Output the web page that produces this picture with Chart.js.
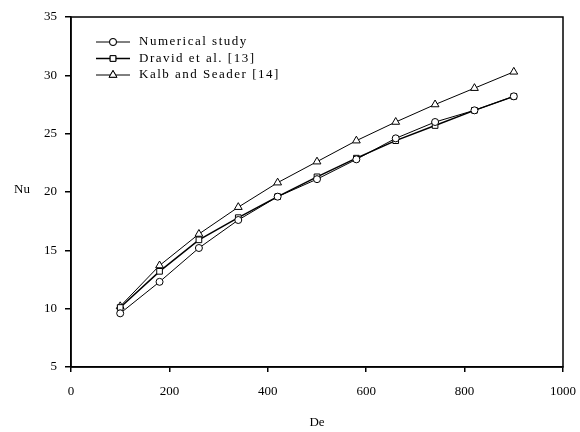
<!DOCTYPE html>
<html>
<head>
<meta charset="utf-8">
<script src="https://cdn.jsdelivr.net/npm/chart.js@4"></script>
<style>
    html, body { margin: 0; padding: 0; background: #fff; }
    #wrap { width: 580px; height: 432px; }
</style>
</head>
<body>
<div id="wrap"><canvas id="nuChart" width="580" height="432"></canvas></div>
<script>
// De values (x) and Nu values for each series
const deValues = [100, 180, 260, 340, 420, 500, 580, 660, 740, 820, 900];
const numericalStudy = [9.6, 12.3, 15.2, 17.6, 19.6, 21.1, 22.8, 24.6, 26.0, 27.0, 28.2];
const dravid = [10.1, 13.2, 15.9, 17.8, 19.6, 21.3, 22.9, 24.4, 25.7, 27.0, 28.2];
const kalbSeader = [10.2, 13.7, 16.4, 18.7, 20.8, 22.6, 24.4, 26.0, 27.5, 28.9, 30.3];

const seriesNames = ['Numerical study', 'Dravid et al. [13]', 'Kalb and Seader [14]'];
const xTicks = [0, 200, 400, 600, 800, 1000];
const yTicks = [5, 10, 15, 20, 25, 30, 35];

const serif = 'Liberation Serif, Times New Roman, serif';

function toPoints(values) {
    return deValues.map(function (x, i) { return { x: x, y: values[i] }; });
}

const styles = [
    { pointStyle: 'circle', radius: 3.5, width: 1 },
    { pointStyle: 'rect', radius: 4, width: 1.5 },
    { pointStyle: 'triangle', radius: 4.5, width: 1 }
];

const seriesValues = [numericalStudy, dravid, kalbSeader];

const datasets = seriesValues.map(function (vals, i) {
    return {
        label: seriesNames[i],
        data: toPoints(vals),
        borderColor: '#000',
        borderWidth: styles[i].width,
        backgroundColor: '#fff',
        pointStyle: styles[i].pointStyle,
        pointRadius: styles[i].radius,
        pointBorderWidth: 1,
        pointBackgroundColor: '#fff',
        pointBorderColor: '#000',
        tension: 0,
        fill: false
    };
});

// frame around plot, horizontal "Nu" label and inset legend
const extras = {
    id: 'extras',
    afterDraw: function (chart) {
        const ctx = chart.ctx;
        const a = chart.chartArea;
        ctx.save();
        ctx.strokeStyle = '#000';
        ctx.lineWidth = 1.5;
        ctx.strokeRect(a.left, a.top, a.right - a.left, a.bottom - a.top);

        ctx.fillStyle = '#000';
        ctx.font = '13px ' + serif;
        ctx.textAlign = 'center';
        ctx.textBaseline = 'middle';
        ctx.fillText('Nu', 22, 190);

        // legend
        ctx.textAlign = 'left';
        ctx.font = '13px ' + serif;
        if ('letterSpacing' in ctx) ctx.letterSpacing = '1.5px';
        chart.data.datasets.forEach(function (ds, i) {
            const y = 42 + i * 16.5;
            ctx.lineWidth = ds.borderWidth;
            ctx.strokeStyle = '#000';
            ctx.beginPath();
            ctx.moveTo(96, y);
            ctx.lineTo(130, y);
            ctx.stroke();
            ctx.lineWidth = 1;
            ctx.fillStyle = '#fff';
            Chart.helpers.drawPoint(ctx, {
                pointStyle: ds.pointStyle,
                radius: ds.pointRadius,
                borderWidth: 1,
                rotation: 0
            }, 113, y);
            ctx.fill();
            ctx.stroke();
            ctx.fillStyle = '#000';
            ctx.fillText(ds.label, 139, y);
        });
        ctx.restore();
    }
};

const ctx = document.getElementById('nuChart').getContext('2d');
const nuChart = new Chart(ctx, {
    type: 'line',
    data: { datasets: datasets },
    options: {
        responsive: false,
        animation: false,
        layout: { padding: { top: 17, right: 17, left: 0, bottom: 0 } },
        plugins: {
            legend: { display: false },
            tooltip: { enabled: false }
        },
        scales: {
            x: {
                type: 'linear',
                min: xTicks[0],
                max: xTicks[xTicks.length - 1],
                afterBuildTicks: function (scale) {
                    scale.ticks = xTicks.map(function (v) { return { value: v }; });
                },
                afterFit: function (scale) {
                    scale.height = 65;
                    scale.paddingRight = 0;
                    scale.paddingLeft = 0;
                },
                border: { display: true, color: '#000', width: 1.5 },
                grid: { drawOnChartArea: false, drawTicks: true, tickLength: 5, color: '#000', lineWidth: 1.5 },
                ticks: {
                    color: '#000', padding: 12, maxRotation: 0,
                    font: { family: serif, size: 13 },
                    callback: function (v) { return String(v); }
                },
                title: { display: true, text: 'De', color: '#000', padding: { top: 0, bottom: 2 }, font: { family: serif, size: 13 } }
            },
            y: {
                type: 'linear',
                min: yTicks[0],
                max: yTicks[yTicks.length - 1],
                afterBuildTicks: function (scale) {
                    scale.ticks = yTicks.map(function (v) { return { value: v }; });
                },
                afterFit: function (scale) { scale.width = 71; },
                border: { display: true, color: '#000', width: 1.5 },
                grid: { drawOnChartArea: false, drawTicks: true, tickLength: 6, color: '#000', lineWidth: 1.5 },
                ticks: {
                    color: '#000', padding: 8,
                    font: { family: serif, size: 13 },
                    callback: function (v) { return String(v); }
                }
            }
        }
    },
    plugins: [extras]
});
</script>
</body>
</html>
